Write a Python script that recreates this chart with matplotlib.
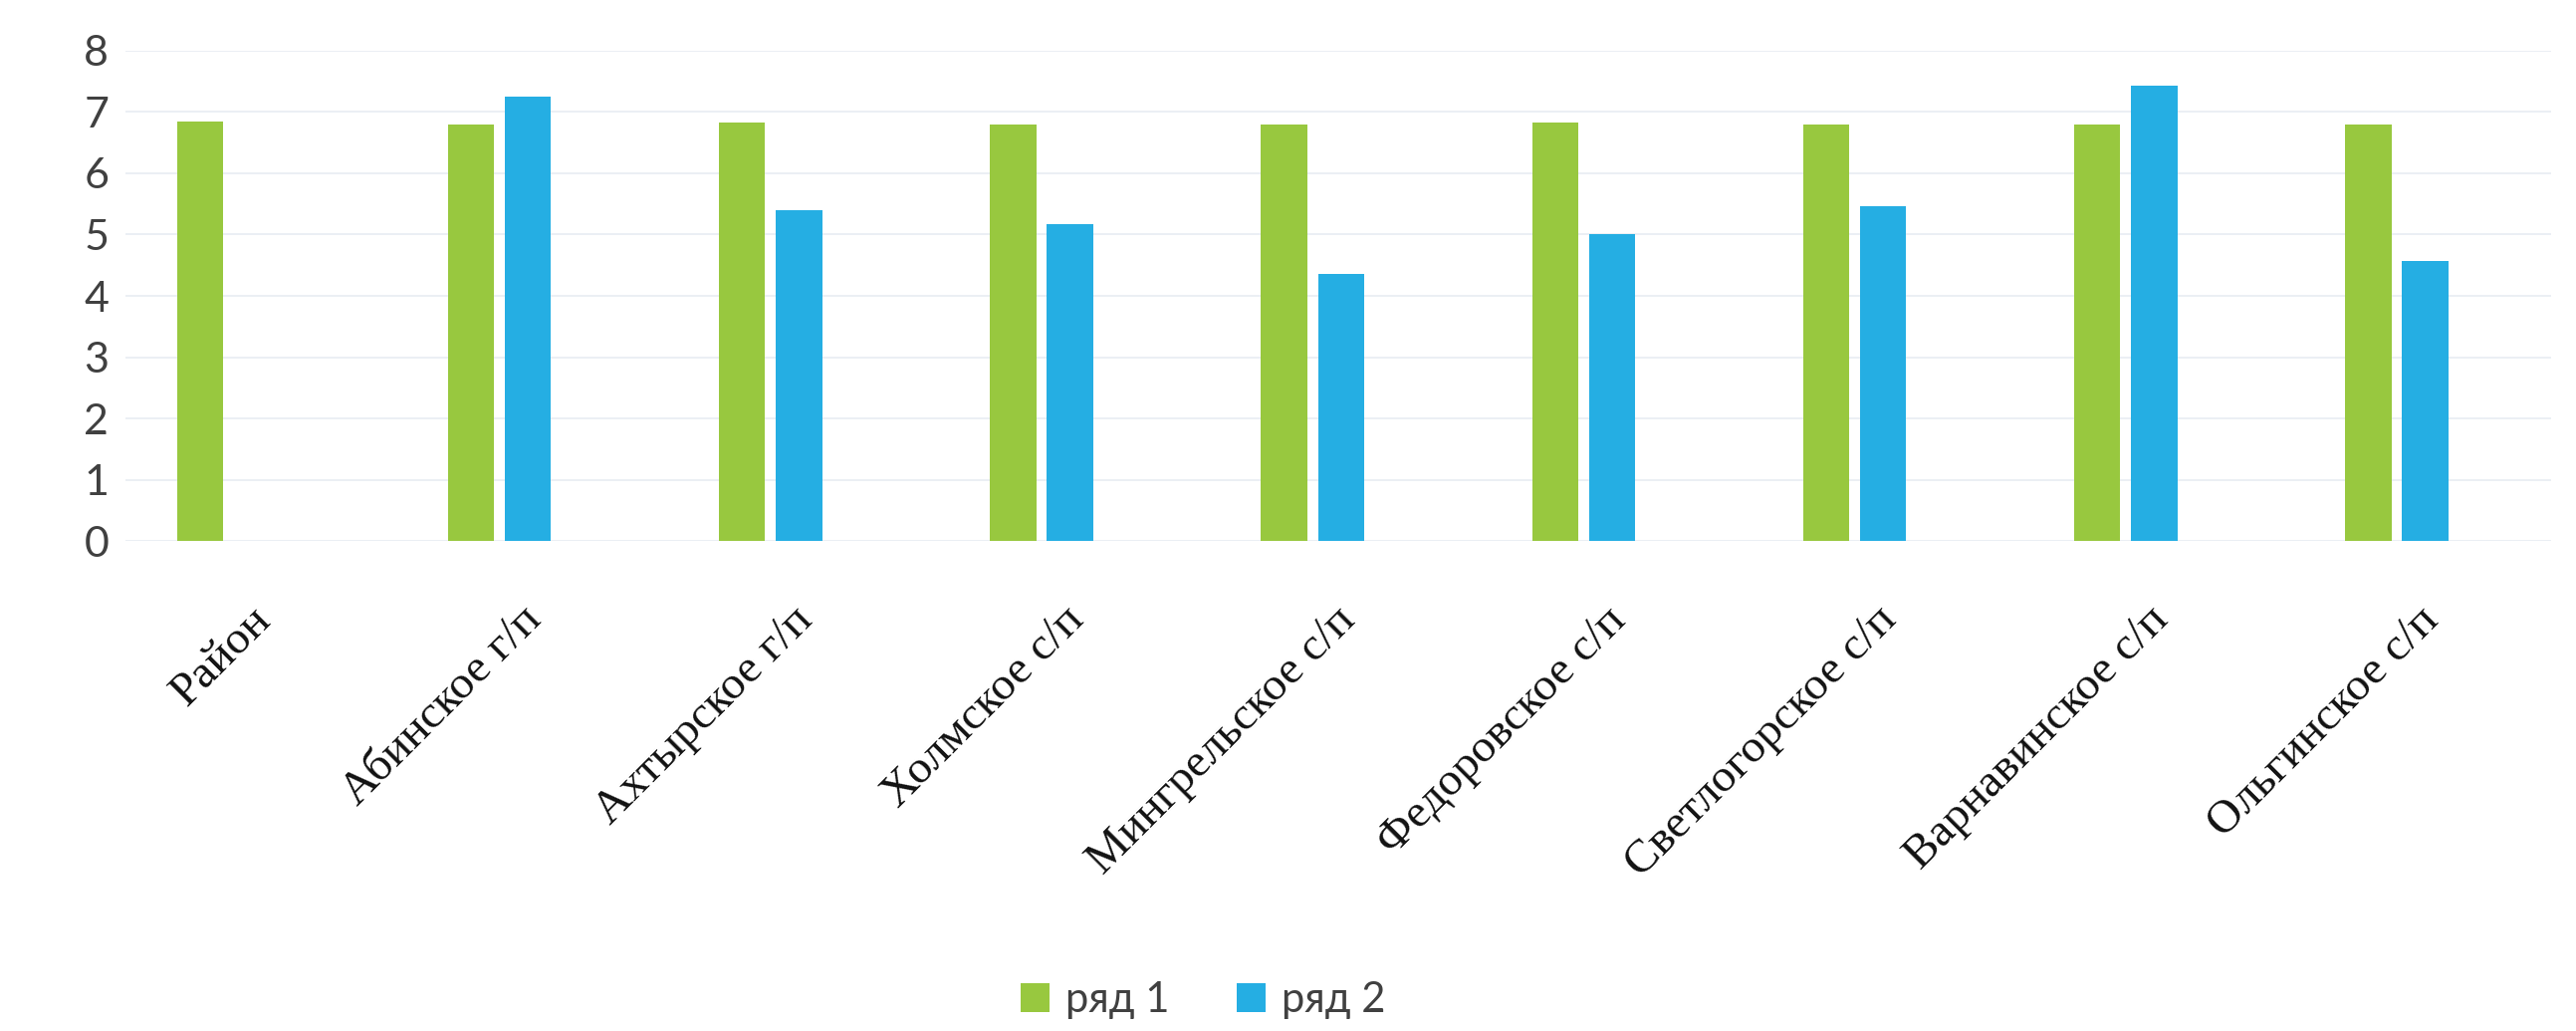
import numpy as np
import matplotlib
matplotlib.use("Agg")
import matplotlib.pyplot as plt
from matplotlib.transforms import ScaledTranslation


### Data

categories = ["Район", "Абинское г/п", "Ахтырское г/п", "Холмское с/п",
              "Мингрельское с/п", "Федоровское с/п", "Светлогорское с/п",
              "Варнавинское с/п", "Ольгинское с/п"]
series1 = [6.85, 6.8, 6.82, 6.8, 6.8, 6.82, 6.8, 6.8, 6.8]
series2 = [np.nan, 7.25, 5.4, 5.17, 4.36, 5.0, 5.47, 7.43, 4.57]
series_names = ["ряд 1", "ряд 2"]
y_ticks = [0, 1, 2, 3, 4, 5, 6, 7, 8]


### Figure

green = "#98C83F"
blue = "#25AEE3"

fig = plt.figure(figsize=(25.87, 10.35), dpi=100)
ax = fig.add_axes([0.0487, 0.475, 0.9417, 0.476])

x = np.arange(len(categories))
w = 0.17
off = 0.105
ax.bar(x - off, series1, width=w, color=green, label=series_names[0], zorder=2)
ax.bar(x + off, series2, width=w, color=blue, label=series_names[1], zorder=2)

ax.set_xlim(-0.38, 8.57)
ax.set_ylim(0, 8)
ax.set_yticks(y_ticks)
ax.set_yticklabels([str(t) for t in y_ticks], family="Lato", fontsize=31, color="#404040")
ax.grid(axis="y", color="#E8ECF2", linewidth=1.2, zorder=0)
ax.tick_params(axis="y", length=0, pad=12)
ax.tick_params(axis="x", length=0)
for s in ax.spines.values():
    s.set_visible(False)

# rotated serif category labels, shifted so they end just right of the group
ax.set_xticks(x)
ax.set_xticklabels(categories, rotation=45, ha="right", va="center",
                   rotation_mode="anchor", family="Liberation Serif",
                   fontsize=34, color="#111111")
shift = ScaledTranslation(0.36, -0.68, fig.dpi_scale_trans)
for lbl in ax.get_xticklabels():
    lbl.set_transform(lbl.get_transform() + shift)

fig.legend(loc="lower center", bbox_to_anchor=(0.467, -0.025), ncol=2,
           frameon=False, prop={"family": "Lato", "size": 30},
           handlelength=0.7, handleheight=0.7, handletextpad=0.4,
           columnspacing=1.6, labelcolor="#404040")

fig.savefig("out.png", dpi=100, facecolor="white")
